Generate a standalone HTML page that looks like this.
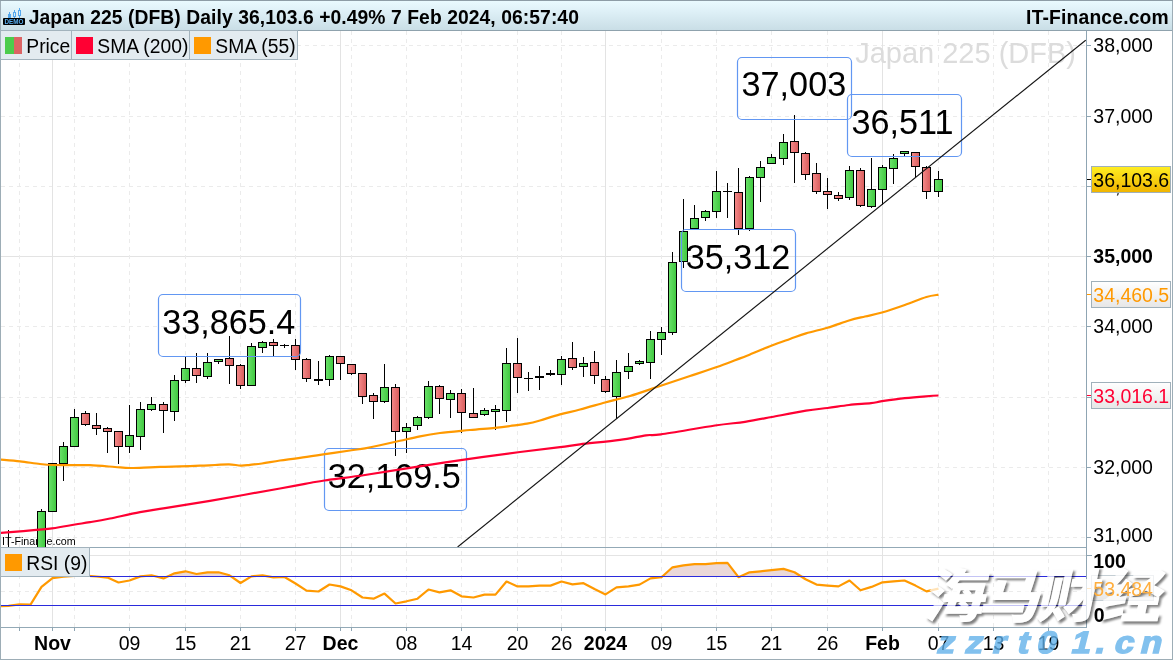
<!DOCTYPE html>
<html lang="en"><head><meta charset="utf-8"><title>Japan 225 (DFB) Daily</title>
<style>
html,body{margin:0;padding:0;background:#fff;}
body{width:1173px;height:660px;overflow:hidden;}
svg{display:block;}
text{font-family:"Liberation Sans","Noto Sans CJK SC",sans-serif;}
.b{font-weight:bold;}
</style></head><body>
<svg width="1173" height="660" viewBox="0 0 1173 660">
<defs>
<linearGradient id="tb" x1="0" y1="0" x2="0" y2="1"><stop offset="0" stop-color="#eafbff"/><stop offset="0.4" stop-color="#ddeff6"/><stop offset="1" stop-color="#c8dde5"/></linearGradient>
<linearGradient id="gg" x1="0" y1="0" x2="1" y2="0"><stop offset="0" stop-color="#6ae26a"/><stop offset="1" stop-color="#3fc83f"/></linearGradient>
<linearGradient id="rg" x1="0" y1="0" x2="1" y2="0"><stop offset="0" stop-color="#f58a8a"/><stop offset="1" stop-color="#d85c5c"/></linearGradient>
<linearGradient id="yg" x1="0" y1="0" x2="0" y2="1"><stop offset="0" stop-color="#ffee22"/><stop offset="1" stop-color="#f0b400"/></linearGradient>
<linearGradient id="lg" x1="0" y1="0" x2="0" y2="1"><stop offset="0" stop-color="#ffffff"/><stop offset="1" stop-color="#e6e6e6"/></linearGradient>
<clipPath id="cm"><rect x="1" y="31" width="1085" height="516"/></clipPath>
<clipPath id="cr"><rect x="1" y="548" width="1085" height="79"/></clipPath>
</defs>
<rect width="1173" height="660" fill="#fff"/>

<g id="grid" shape-rendering="crispEdges">
<line x1="1" x2="1086.5" y1="45.5" y2="45.5" stroke="#ebebeb" stroke-dasharray="4 4"/>
<line x1="1" x2="1086.5" y1="116.5" y2="116.5" stroke="#ebebeb" stroke-dasharray="4 4"/>
<line x1="1" x2="1086.5" y1="186.5" y2="186.5" stroke="#ebebeb" stroke-dasharray="4 4"/>
<line x1="1" x2="1086.5" y1="326.5" y2="326.5" stroke="#ebebeb" stroke-dasharray="4 4"/>
<line x1="1" x2="1086.5" y1="397.5" y2="397.5" stroke="#ebebeb" stroke-dasharray="4 4"/>
<line x1="1" x2="1086.5" y1="467.5" y2="467.5" stroke="#ebebeb" stroke-dasharray="4 4"/>
<line x1="1" x2="1086.5" y1="537.5" y2="537.5" stroke="#ebebeb" stroke-dasharray="4 4"/>
<line x1="1" x2="1086.5" y1="256.5" y2="256.5" stroke="#e3e3e3"/>
<line x1="1" x2="1086.5" y1="555.5" y2="555.5" stroke="#e4e4e4"/>
<line x1="1" x2="1086.5" y1="591.5" y2="591.5" stroke="#ebebeb" stroke-dasharray="4 4"/>
<line x1="52.5" x2="52.5" y1="31" y2="627" stroke="#e3e3e3"/>
<line x1="340.5" x2="340.5" y1="31" y2="627" stroke="#e3e3e3"/>
<line x1="605.5" x2="605.5" y1="31" y2="627" stroke="#e3e3e3"/>
<line x1="882.5" x2="882.5" y1="31" y2="627" stroke="#e3e3e3"/>
<line x1="19.5" x2="19.5" y1="31" y2="627" stroke="#ebebeb" stroke-dasharray="4 4"/>
<line x1="74.5" x2="74.5" y1="31" y2="627" stroke="#ebebeb" stroke-dasharray="4 4"/>
<line x1="129.5" x2="129.5" y1="31" y2="627" stroke="#ebebeb" stroke-dasharray="4 4"/>
<line x1="185.5" x2="185.5" y1="31" y2="627" stroke="#ebebeb" stroke-dasharray="4 4"/>
<line x1="240.5" x2="240.5" y1="31" y2="627" stroke="#ebebeb" stroke-dasharray="4 4"/>
<line x1="295.5" x2="295.5" y1="31" y2="627" stroke="#ebebeb" stroke-dasharray="4 4"/>
<line x1="351.5" x2="351.5" y1="31" y2="627" stroke="#ebebeb" stroke-dasharray="4 4"/>
<line x1="406.5" x2="406.5" y1="31" y2="627" stroke="#ebebeb" stroke-dasharray="4 4"/>
<line x1="461.5" x2="461.5" y1="31" y2="627" stroke="#ebebeb" stroke-dasharray="4 4"/>
<line x1="517.5" x2="517.5" y1="31" y2="627" stroke="#ebebeb" stroke-dasharray="4 4"/>
<line x1="561.5" x2="561.5" y1="31" y2="627" stroke="#ebebeb" stroke-dasharray="4 4"/>
<line x1="661.5" x2="661.5" y1="31" y2="627" stroke="#ebebeb" stroke-dasharray="4 4"/>
<line x1="716.5" x2="716.5" y1="31" y2="627" stroke="#ebebeb" stroke-dasharray="4 4"/>
<line x1="771.5" x2="771.5" y1="31" y2="627" stroke="#ebebeb" stroke-dasharray="4 4"/>
<line x1="827.5" x2="827.5" y1="31" y2="627" stroke="#ebebeb" stroke-dasharray="4 4"/>
<line x1="938.5" x2="938.5" y1="31" y2="627" stroke="#ebebeb" stroke-dasharray="4 4"/>
<line x1="993.5" x2="993.5" y1="31" y2="627" stroke="#ebebeb" stroke-dasharray="4 4"/>
<line x1="1048.5" x2="1048.5" y1="31" y2="627" stroke="#ebebeb" stroke-dasharray="4 4"/>
</g>
<text x="1076" y="62.5" text-anchor="end" font-size="29" fill="#dcdcdc">Japan 225 (DFB)</text>
<text x="2" y="545" font-size="10.7" fill="#000">IT-Finance.com</text>
<g id="candles" clip-path="url(#cm)" shape-rendering="crispEdges" stroke="#000" stroke-width="1">
<line x1="8.5" x2="8.5" y1="530" y2="548"/>
<line x1="41.5" x2="41.5" y1="509" y2="560"/>
<rect x="37.5" y="511.5" width="8" height="48.5" fill="url(#gg)"/>
<line x1="52.5" x2="52.5" y1="463.5" y2="511.5"/>
<rect x="48.5" y="463.5" width="8" height="48.0" fill="url(#gg)"/>
<line x1="63.5" x2="63.5" y1="442" y2="481"/>
<rect x="59.5" y="446.5" width="8" height="17.0" fill="url(#gg)"/>
<line x1="74.5" x2="74.5" y1="409" y2="446.5"/>
<rect x="70.5" y="417.5" width="8" height="29.0" fill="url(#gg)"/>
<line x1="85.5" x2="85.5" y1="411" y2="426"/>
<rect x="81.5" y="413.5" width="8" height="11.0" fill="url(#rg)"/>
<line x1="96.5" x2="96.5" y1="413" y2="434.5"/>
<rect x="92.5" y="425.5" width="8" height="3.0" fill="url(#rg)"/>
<line x1="107.5" x2="107.5" y1="427" y2="452.5"/>
<rect x="103.5" y="428.5" width="8" height="3.0" fill="url(#rg)"/>
<line x1="118.5" x2="118.5" y1="431" y2="463.5"/>
<rect x="114.5" y="431.5" width="8" height="15.0" fill="url(#rg)"/>
<line x1="129.5" x2="129.5" y1="405" y2="452.5"/>
<rect x="125.5" y="435.5" width="8" height="11.0" fill="url(#gg)"/>
<line x1="140.5" x2="140.5" y1="402" y2="449.5"/>
<rect x="136.5" y="409.5" width="8" height="27.0" fill="url(#gg)"/>
<line x1="151.5" x2="151.5" y1="397" y2="411"/>
<rect x="147.5" y="404.5" width="8" height="5.0" fill="url(#gg)"/>
<line x1="163.5" x2="163.5" y1="402" y2="432.5"/>
<rect x="159.5" y="404.5" width="8" height="6.0" fill="url(#rg)"/>
<line x1="174.5" x2="174.5" y1="375" y2="420.5"/>
<rect x="170.5" y="380.5" width="8" height="31.0" fill="url(#gg)"/>
<line x1="185.5" x2="185.5" y1="355.5" y2="383"/>
<rect x="181.5" y="368.5" width="8" height="12.0" fill="url(#gg)"/>
<line x1="196.5" x2="196.5" y1="353" y2="383"/>
<rect x="192.5" y="368.5" width="8" height="7.0" fill="url(#rg)"/>
<line x1="207.5" x2="207.5" y1="353" y2="378.5"/>
<rect x="203.5" y="362.5" width="8" height="14.0" fill="url(#gg)"/>
<line x1="218.5" x2="218.5" y1="359.5" y2="364"/>
<rect x="214.5" y="359.5" width="8" height="2.0" fill="url(#gg)"/>
<line x1="229.5" x2="229.5" y1="336" y2="384"/>
<rect x="225.5" y="358.5" width="8" height="7.0" fill="url(#rg)"/>
<line x1="240.5" x2="240.5" y1="364" y2="389"/>
<rect x="236.5" y="365.5" width="8" height="20.0" fill="url(#rg)"/>
<line x1="251.5" x2="251.5" y1="343" y2="385.5"/>
<rect x="247.5" y="346.5" width="8" height="39.0" fill="url(#gg)"/>
<line x1="262.5" x2="262.5" y1="341" y2="352.5"/>
<rect x="258.5" y="342.5" width="8" height="5.0" fill="url(#gg)"/>
<line x1="273.5" x2="273.5" y1="339" y2="355.5"/>
<rect x="269.5" y="342.5" width="8" height="3.0" fill="url(#rg)"/>
<line x1="284.5" x2="284.5" y1="343.5" y2="347.5"/>
<line x1="280.0" x2="289.0" y1="345.5" y2="345.5"/>
<line x1="295.5" x2="295.5" y1="339" y2="369.5"/>
<rect x="291.5" y="345.5" width="8" height="14.0" fill="url(#rg)"/>
<line x1="306.5" x2="306.5" y1="358" y2="381.5"/>
<rect x="302.5" y="359.5" width="8" height="19.0" fill="url(#rg)"/>
<line x1="318.5" x2="318.5" y1="360.5" y2="384.5"/>
<rect x="314.0" y="379" width="9" height="2" fill="#000" stroke="none"/>
<line x1="329.5" x2="329.5" y1="355" y2="385.5"/>
<rect x="325.5" y="356.5" width="8" height="23.0" fill="url(#gg)"/>
<line x1="340.5" x2="340.5" y1="356.5" y2="379.5"/>
<rect x="336.5" y="356.5" width="8" height="7.0" fill="url(#rg)"/>
<line x1="351.5" x2="351.5" y1="364.5" y2="374.5"/>
<rect x="347.5" y="364.5" width="8" height="9.0" fill="url(#rg)"/>
<line x1="362.5" x2="362.5" y1="373.5" y2="403.5"/>
<rect x="358.5" y="373.5" width="8" height="23.0" fill="url(#rg)"/>
<line x1="373.5" x2="373.5" y1="392.5" y2="419"/>
<rect x="369.5" y="395.5" width="8" height="6.0" fill="url(#rg)"/>
<line x1="384.5" x2="384.5" y1="364" y2="403"/>
<rect x="380.5" y="387.5" width="8" height="14.0" fill="url(#gg)"/>
<line x1="395.5" x2="395.5" y1="384" y2="456"/>
<rect x="391.5" y="387.5" width="8" height="44.0" fill="url(#rg)"/>
<line x1="406.5" x2="406.5" y1="423" y2="452.5"/>
<rect x="402.5" y="427.5" width="8" height="4.0" fill="url(#gg)"/>
<line x1="417.5" x2="417.5" y1="416" y2="429.5"/>
<rect x="413.5" y="417.5" width="8" height="8.0" fill="url(#gg)"/>
<line x1="428.5" x2="428.5" y1="381" y2="419"/>
<rect x="424.5" y="386.5" width="8" height="31.0" fill="url(#gg)"/>
<line x1="439.5" x2="439.5" y1="385" y2="414"/>
<rect x="435.5" y="386.5" width="8" height="12.0" fill="url(#rg)"/>
<line x1="450.5" x2="450.5" y1="389.5" y2="417.5"/>
<rect x="446.5" y="393.5" width="8" height="6.0" fill="url(#gg)"/>
<line x1="461.5" x2="461.5" y1="388.5" y2="432.5"/>
<rect x="457.5" y="393.5" width="8" height="19.0" fill="url(#rg)"/>
<line x1="473.5" x2="473.5" y1="388" y2="417.5"/>
<rect x="469.5" y="413.5" width="8" height="4.0" fill="url(#rg)"/>
<line x1="484.5" x2="484.5" y1="407.5" y2="415.5"/>
<rect x="480.5" y="410.5" width="8" height="4.0" fill="url(#gg)"/>
<line x1="495.5" x2="495.5" y1="405" y2="429.5"/>
<rect x="491.5" y="409.5" width="8" height="2.0" fill="url(#gg)"/>
<line x1="506.5" x2="506.5" y1="348" y2="421.5"/>
<rect x="502.5" y="363.5" width="8" height="47.0" fill="url(#gg)"/>
<line x1="517.5" x2="517.5" y1="338" y2="392.5"/>
<rect x="513.5" y="363.5" width="8" height="14.0" fill="url(#rg)"/>
<line x1="528.5" x2="528.5" y1="372" y2="390.5"/>
<line x1="524.0" x2="533.0" y1="378.5" y2="378.5"/>
<line x1="539.5" x2="539.5" y1="366" y2="389.5"/>
<rect x="535.0" y="376" width="9" height="2" fill="#000" stroke="none"/>
<line x1="550.5" x2="550.5" y1="370" y2="375.5"/>
<rect x="546.0" y="373" width="9" height="2" fill="#000" stroke="none"/>
<line x1="561.5" x2="561.5" y1="356" y2="384.5"/>
<rect x="557.5" y="359.5" width="8" height="15.0" fill="url(#gg)"/>
<line x1="572.5" x2="572.5" y1="342" y2="369.5"/>
<rect x="568.5" y="358.5" width="8" height="9.0" fill="url(#rg)"/>
<line x1="583.5" x2="583.5" y1="357" y2="376.5"/>
<rect x="579.5" y="363.5" width="8" height="3.0" fill="url(#gg)"/>
<line x1="594.5" x2="594.5" y1="351" y2="383.5"/>
<rect x="590.5" y="362.5" width="8" height="13.0" fill="url(#rg)"/>
<line x1="605.5" x2="605.5" y1="376" y2="392.5"/>
<rect x="601.5" y="379.5" width="8" height="12.0" fill="url(#rg)"/>
<line x1="616.5" x2="616.5" y1="360" y2="419"/>
<rect x="612.5" y="372.5" width="8" height="24.0" fill="url(#gg)"/>
<line x1="628.5" x2="628.5" y1="353" y2="378.5"/>
<rect x="624.5" y="366.5" width="8" height="5.0" fill="url(#gg)"/>
<line x1="639.5" x2="639.5" y1="360" y2="364.5"/>
<rect x="635.5" y="361.5" width="8" height="2.0" fill="url(#gg)"/>
<line x1="650.5" x2="650.5" y1="330.5" y2="378.5"/>
<rect x="646.5" y="339.5" width="8" height="23.0" fill="url(#gg)"/>
<line x1="661.5" x2="661.5" y1="327" y2="354.5"/>
<rect x="657.5" y="332.5" width="8" height="7.0" fill="url(#gg)"/>
<line x1="672.5" x2="672.5" y1="252" y2="334.5"/>
<rect x="668.5" y="262.5" width="8" height="70.0" fill="url(#gg)"/>
<line x1="683.5" x2="683.5" y1="199" y2="268"/>
<rect x="679.5" y="231.5" width="8" height="30.0" fill="url(#gg)"/>
<line x1="694.5" x2="694.5" y1="205" y2="230"/>
<rect x="690.5" y="218.5" width="8" height="10.0" fill="url(#gg)"/>
<line x1="705.5" x2="705.5" y1="209.5" y2="220.5"/>
<rect x="701.5" y="211.5" width="8" height="6.0" fill="url(#gg)"/>
<line x1="716.5" x2="716.5" y1="171" y2="217.5"/>
<rect x="712.5" y="191.5" width="8" height="20.0" fill="url(#gg)"/>
<line x1="727.5" x2="727.5" y1="183" y2="217.5"/>
<line x1="723.0" x2="732.0" y1="191.5" y2="191.5"/>
<line x1="738.5" x2="738.5" y1="168" y2="234.5"/>
<rect x="734.5" y="192.5" width="8" height="36.0" fill="url(#rg)"/>
<line x1="749.5" x2="749.5" y1="176" y2="230.5"/>
<rect x="745.5" y="177.5" width="8" height="51.0" fill="url(#gg)"/>
<line x1="760.5" x2="760.5" y1="161" y2="201.5"/>
<rect x="756.5" y="167.5" width="8" height="10.0" fill="url(#gg)"/>
<line x1="771.5" x2="771.5" y1="154" y2="163.5"/>
<rect x="767.5" y="157.5" width="8" height="6.0" fill="url(#gg)"/>
<line x1="783.5" x2="783.5" y1="134" y2="164.5"/>
<rect x="779.5" y="142.5" width="8" height="16.0" fill="url(#gg)"/>
<line x1="794.5" x2="794.5" y1="115" y2="182.5"/>
<rect x="790.5" y="141.5" width="8" height="11.0" fill="url(#rg)"/>
<line x1="805.5" x2="805.5" y1="152" y2="179.5"/>
<rect x="801.5" y="153.5" width="8" height="21.0" fill="url(#rg)"/>
<line x1="816.5" x2="816.5" y1="163" y2="193.5"/>
<rect x="812.5" y="173.5" width="8" height="18.0" fill="url(#rg)"/>
<line x1="827.5" x2="827.5" y1="178" y2="208.5"/>
<rect x="823.5" y="191.5" width="8" height="3.0" fill="url(#rg)"/>
<line x1="838.5" x2="838.5" y1="192" y2="200.5"/>
<rect x="834.5" y="195.5" width="8" height="3.0" fill="url(#rg)"/>
<line x1="849.5" x2="849.5" y1="166" y2="199.5"/>
<rect x="845.5" y="170.5" width="8" height="27.0" fill="url(#gg)"/>
<line x1="860.5" x2="860.5" y1="168" y2="206.5"/>
<rect x="856.5" y="170.5" width="8" height="35.0" fill="url(#rg)"/>
<line x1="871.5" x2="871.5" y1="158" y2="207.5"/>
<rect x="867.5" y="189.5" width="8" height="17.0" fill="url(#gg)"/>
<line x1="882.5" x2="882.5" y1="164.5" y2="204.5"/>
<rect x="878.5" y="167.5" width="8" height="22.0" fill="url(#gg)"/>
<line x1="893.5" x2="893.5" y1="154" y2="183.5"/>
<rect x="889.5" y="158.5" width="8" height="10.0" fill="url(#gg)"/>
<line x1="904.5" x2="904.5" y1="150.5" y2="155.5"/>
<rect x="900.5" y="151.5" width="8" height="2.0" fill="url(#gg)"/>
<line x1="915.5" x2="915.5" y1="152.5" y2="177"/>
<rect x="911.5" y="152.5" width="8" height="14.0" fill="url(#rg)"/>
<line x1="926.5" x2="926.5" y1="165.5" y2="198.5"/>
<rect x="922.5" y="167.5" width="8" height="24.0" fill="url(#rg)"/>
<line x1="938.5" x2="938.5" y1="171" y2="196.5"/>
<rect x="934.5" y="179.5" width="8" height="12.0" fill="url(#gg)"/>
</g>
<g id="labels">
<rect x="158.5" y="294.5" width="142" height="62" rx="4.5" ry="4.5" fill="none" stroke="#6297f2" stroke-width="1.2"/>
<text x="162.2" y="333.8" font-size="34.2" fill="#000">33,865.4</text>
<rect x="324.5" y="448.5" width="142" height="62" rx="4.5" ry="4.5" fill="none" stroke="#6297f2" stroke-width="1.2"/>
<text x="327.7" y="487.7" font-size="34.2" fill="#000">32,169.5</text>
<rect x="681.5" y="229.5" width="114" height="62" rx="4.5" ry="4.5" fill="none" stroke="#6297f2" stroke-width="1.2"/>
<text x="685.8" y="269" font-size="34.2" fill="#000">35,312</text>
<rect x="737.5" y="57.5" width="114" height="62" rx="4.5" ry="4.5" fill="none" stroke="#6297f2" stroke-width="1.2"/>
<text x="741.6" y="96.2" font-size="34.2" fill="#000">37,003</text>
<rect x="847.5" y="94.5" width="114" height="62" rx="4.5" ry="4.5" fill="none" stroke="#6297f2" stroke-width="1.2"/>
<text x="851.5" y="133.5" font-size="34.2" fill="#000">36,511</text>
</g>
<g clip-path="url(#cm)" fill="none" stroke-linejoin="round" stroke-linecap="butt">
<path d="M0.0,533.0 C3.3,532.7 11.3,532.1 20.0,531.3 C28.7,530.5 42.8,529.4 52.0,528.3 C61.2,527.2 68.7,525.5 75.0,524.5 C81.3,523.5 84.2,523.2 90.0,522.2 C95.8,521.2 101.7,520.2 110.0,518.5 C118.3,516.8 130.8,513.9 140.0,512.2 C149.2,510.5 153.3,510.1 165.0,508.2 C176.7,506.3 190.8,504.1 210.0,500.8 C229.2,497.5 262.5,491.6 280.0,488.5 C297.5,485.4 306.7,483.5 315.0,482.0 C323.3,480.5 321.7,480.9 330.0,479.7 C338.3,478.5 351.7,477.0 365.0,475.0 C378.3,473.0 393.2,470.4 410.0,467.8 C426.8,465.2 447.7,462.0 466.0,459.4 C484.3,456.8 504.3,454.0 520.0,452.0 C535.7,450.0 550.0,448.5 560.0,447.2 C570.0,445.9 570.0,445.5 580.0,444.3 C590.0,443.1 609.0,441.3 620.0,439.8 C631.0,438.3 639.2,436.2 646.0,435.3 C652.8,434.4 649.5,435.9 661.0,434.3 C672.5,432.7 701.0,427.6 715.0,425.5 C729.0,423.4 735.5,423.2 745.0,421.8 C754.5,420.4 761.6,418.9 771.8,417.0 C782.0,415.1 796.7,412.2 806.0,410.7 C815.3,409.2 820.3,408.9 827.5,408.0 C834.7,407.1 841.8,405.8 849.0,405.0 C856.2,404.2 865.5,403.8 871.0,403.2 C876.5,402.6 876.4,402.0 882.0,401.2 C887.6,400.4 897.5,399.0 904.8,398.2 C912.1,397.4 920.4,396.8 926.0,396.4 C931.6,395.9 936.4,395.6 938.5,395.5" stroke="#ff0033" stroke-width="2.2"/>
<path d="M0.0,459.5 C3.3,459.8 13.3,460.6 20.0,461.3 C26.7,462.1 34.7,463.4 40.0,464.0 C45.3,464.6 46.2,464.8 52.0,465.0 C57.8,465.2 68.7,465.2 75.0,465.2 C81.3,465.2 83.3,464.9 90.0,465.2 C96.7,465.5 108.3,466.5 115.0,467.0 C121.7,467.5 124.2,467.9 130.0,468.0 C135.8,468.1 144.2,467.5 150.0,467.3 C155.8,467.1 160.0,467.0 165.0,466.8 C170.0,466.6 174.2,466.6 180.0,466.4 C185.8,466.2 194.2,465.9 200.0,465.7 C205.8,465.5 210.2,465.2 215.0,465.0 C219.8,464.8 224.7,464.2 229.0,464.3 C233.3,464.4 237.5,465.5 241.0,465.6 C244.5,465.7 246.5,465.2 250.0,464.8 C253.5,464.4 257.0,464.2 262.0,463.5 C267.0,462.8 273.7,461.4 280.0,460.5 C286.3,459.6 292.5,458.9 300.0,457.8 C307.5,456.8 316.7,455.4 325.0,454.2 C333.3,453.0 343.3,451.5 350.0,450.5 C356.7,449.5 360.0,449.3 365.0,448.4 C370.0,447.5 374.2,446.6 380.0,445.3 C385.8,444.0 393.3,442.3 400.0,440.8 C406.7,439.3 413.3,437.6 420.0,436.3 C426.7,435.0 431.7,434.1 440.0,433.0 C448.3,431.9 460.8,430.9 470.0,430.0 C479.2,429.1 488.3,428.5 495.0,427.8 C501.7,427.1 504.7,426.7 510.0,426.0 C515.3,425.3 522.0,424.6 527.0,423.7 C532.0,422.8 534.5,422.1 540.0,420.5 C545.5,418.9 553.3,416.2 560.0,414.4 C566.7,412.6 572.5,411.5 580.0,409.5 C587.5,407.5 596.7,404.8 605.0,402.5 C613.3,400.2 620.8,398.8 630.0,396.0 C639.2,393.2 650.0,389.3 660.0,386.0 C670.0,382.7 680.0,379.3 690.0,376.0 C700.0,372.7 711.7,368.9 720.0,366.0 C728.3,363.1 735.0,360.3 740.0,358.4 C745.0,356.5 744.7,356.6 750.0,354.5 C755.3,352.4 765.1,348.1 771.8,345.5 C778.5,342.9 784.3,341.0 790.0,339.0 C795.7,337.0 799.8,335.3 806.0,333.4 C812.2,331.5 820.3,329.8 827.5,327.7 C834.7,325.6 842.8,322.4 849.0,320.5 C855.2,318.6 859.5,317.8 865.0,316.5 C870.5,315.2 875.4,314.4 882.0,312.5 C888.6,310.6 897.4,307.6 904.8,305.0 C912.2,302.4 920.8,298.7 926.4,297.0 C932.0,295.3 936.5,295.1 938.5,294.7" stroke="#ff9900" stroke-width="2.2"/>
<line x1="457.6" y1="547" x2="1085.7" y2="40.2" stroke="#151515" stroke-width="1.15"/>
</g>
<g id="rsi">
<path d="M-3.5,576.5 L8.5,576.5 L19.5,576.5 L30.5,576.5 L41.5,576.5 L52.5,576.5 L63.5,576.5 L74.5,575.8 L85.5,575.6 L96.5,576.5 L107.5,576.5 L118.5,576.5 L129.5,576.5 L140.5,576.4 L151.5,575.3 L163.5,576.5 L174.5,573.3 L185.5,571.3 L196.5,574.0 L207.5,572.3 L218.5,572.3 L229.5,575.3 L240.5,576.5 L251.5,576.4 L262.5,575.3 L273.5,576.5 L284.5,576.5 L295.5,576.5 L306.5,576.5 L318.5,576.5 L329.5,576.5 L340.5,576.5 L351.5,576.5 L362.5,576.5 L373.5,576.5 L384.5,576.5 L395.5,576.5 L406.5,576.5 L417.5,576.5 L428.5,576.5 L439.5,576.5 L450.5,576.5 L461.5,576.5 L473.5,576.5 L484.5,576.5 L495.5,576.5 L506.5,576.5 L517.5,576.5 L528.5,576.5 L539.5,576.5 L550.5,576.5 L561.5,576.5 L572.5,576.5 L583.5,576.5 L594.5,576.5 L605.5,576.5 L616.5,576.5 L628.5,576.5 L639.5,576.5 L650.5,576.5 L661.5,576.5 L672.5,567.3 L683.5,565.3 L694.5,564.1 L705.5,564.1 L716.5,563.1 L727.5,562.9 L738.5,576.5 L749.5,572.3 L760.5,571.3 L771.5,570.2 L783.5,568.9 L794.5,572.3 L805.5,576.5 L816.5,576.5 L827.5,576.5 L838.5,576.5 L849.5,576.5 L860.5,576.5 L871.5,576.5 L882.5,576.5 L893.5,576.5 L904.5,576.5 L915.5,576.5 L926.5,576.5 L938.5,576.5 L938.5,576.5 L-3.5,576.5 Z" fill="#ead8d8" clip-path="url(#cr)"/>
<path d="M-3.5,606.4 L8.5,605.9 L19.5,604.4 L30.5,604.6 L41.5,586.8 L52.5,578.1 L63.5,576.7 L74.5,575.8 L85.5,575.6 L96.5,576.5 L107.5,577.6 L118.5,582.5 L129.5,580.5 L140.5,576.4 L151.5,575.3 L163.5,578.4 L174.5,573.3 L185.5,571.3 L196.5,574.0 L207.5,572.3 L218.5,572.3 L229.5,575.3 L240.5,583.0 L251.5,576.4 L262.5,575.3 L273.5,577.4 L284.5,577.0 L295.5,583.5 L306.5,590.7 L318.5,591.5 L329.5,584.5 L340.5,586.4 L351.5,590.3 L362.5,597.5 L373.5,598.7 L384.5,593.6 L395.5,603.5 L406.5,601.3 L417.5,598.7 L428.5,589.5 L439.5,592.4 L450.5,590.3 L461.5,596.3 L473.5,597.5 L484.5,594.6 L495.5,594.6 L506.5,581.5 L517.5,586.4 L528.5,586.4 L539.5,585.6 L550.5,585.6 L561.5,581.5 L572.5,584.4 L583.5,583.2 L594.5,589.0 L605.5,594.4 L616.5,587.3 L628.5,586.3 L639.5,584.6 L650.5,578.4 L661.5,577.2 L672.5,567.3 L683.5,565.3 L694.5,564.1 L705.5,564.1 L716.5,563.1 L727.5,562.9 L738.5,577.2 L749.5,572.3 L760.5,571.3 L771.5,570.2 L783.5,568.9 L794.5,572.3 L805.5,579.3 L816.5,584.6 L827.5,585.6 L838.5,586.4 L849.5,580.5 L860.5,590.3 L871.5,586.9 L882.5,582.3 L893.5,581.3 L904.5,580.5 L915.5,585.6 L926.5,591.4 L938.5,588.6" fill="none" stroke="#ff9900" stroke-width="2.2" stroke-linejoin="round" clip-path="url(#cr)"/>
<line x1="1" x2="1086.5" y1="576.5" y2="576.5" stroke="#2b2bdc" stroke-width="1" shape-rendering="crispEdges"/>
<line x1="1" x2="1086.5" y1="605.5" y2="605.5" stroke="#2b2bdc" stroke-width="1" shape-rendering="crispEdges"/>
</g>
<g id="frames" shape-rendering="crispEdges">
<rect x="0" y="0" width="1173" height="31" fill="url(#tb)"/>
<line x1="0" x2="1173" y1="30.5" y2="30.5" stroke="#8fa2ad"/>
<line x1="0" x2="1086.5" y1="547.5" y2="547.5" stroke="#93a9b6"/>
<line x1="0" x2="1092.5" y1="627.5" y2="627.5" stroke="#93a9b6"/>
<line x1="1086.5" x2="1086.5" y1="31" y2="628" stroke="#8fa5b3"/>
<rect x="0.5" y="0.5" width="1172" height="659" fill="none" stroke="#9dadb6"/>
<line x1="0" x2="1173" y1="0.5" y2="0.5" stroke="#8d9da6"/>
</g>
<text x="28.7" y="23.8" font-size="19.3" class="b" fill="#000" textLength="550.2" lengthAdjust="spacing">Japan 225 (DFB) Daily 36,103.6 +0.49% 7 Feb 2024, 06:57:40</text>
<text x="1026.1" y="23.7" font-size="19.3" class="b" fill="#000" textLength="142.6" lengthAdjust="spacing">IT-Finance.com</text>
<g id="demo">
<g stroke="#55a8ee" stroke-width="1" fill="none" shape-rendering="crispEdges">
<line x1="9.5" x2="9.5" y1="12" y2="18"/><rect x="8.5" y="14.5" width="2" height="3" fill="#55a8ee"/>
<line x1="14.5" x2="14.5" y1="10" y2="12"/><line x1="14.5" x2="14.5" y1="17" y2="18"/><rect x="13.5" y="12.5" width="2" height="4"/>
<line x1="19.5" x2="19.5" y1="8" y2="10"/><line x1="19.5" x2="19.5" y1="16" y2="18"/><rect x="18.5" y="10.5" width="2" height="5"/>
</g>
<rect x="3" y="18" width="22" height="7" rx="1" fill="#000"/>
<text x="14" y="23.9" font-size="6.4" class="b" text-anchor="middle" fill="#58aef0" textLength="19" lengthAdjust="spacingAndGlyphs">DEMO</text>
</g>
<g id="legend">
<rect x="0.5" y="30.5" width="71" height="29" fill="#e3ebf0" stroke="#a3b3bd" shape-rendering="crispEdges"/>
<rect x="5" y="37" width="9" height="17" fill="#4ccc4c"/><rect x="14" y="37" width="8" height="17" fill="#dc6464"/>
<text x="26.3" y="52.6" font-size="19.3" fill="#000">Price</text>
<rect x="71.5" y="30.5" width="118" height="29" fill="#e3ebf0" stroke="#a3b3bd" shape-rendering="crispEdges"/>
<rect x="76" y="37" width="17" height="17" fill="#ff0033"/>
<text x="97.3" y="52.6" font-size="19.3" fill="#000">SMA (200)</text>
<rect x="189.5" y="30.5" width="108" height="29" fill="#e3ebf0" stroke="#a3b3bd" shape-rendering="crispEdges"/>
<rect x="194" y="37" width="17" height="17" fill="#ff9900"/>
<text x="215.3" y="52.6" font-size="19.3" fill="#000">SMA (55)</text>
<rect x="0.5" y="547.5" width="89" height="29" fill="#e3ebf0" stroke="#a3b3bd" shape-rendering="crispEdges"/>
<rect x="5" y="554" width="17" height="17" fill="#ff9900"/>
<text x="26.3" y="569.6" font-size="19.3" fill="#000">RSI (9)</text>
</g>
<g id="axis">
<rect x="1087.0" y="31" width="85.0" height="627" fill="#fff"/>
<line x1="1086.5" x2="1091.0" y1="45.5" y2="45.5" stroke="#8fa5b3" shape-rendering="crispEdges"/>
<text x="1093.3" y="51.9" font-size="19.5" fill="#000">38,000</text>
<line x1="1086.5" x2="1091.0" y1="116.5" y2="116.5" stroke="#8fa5b3" shape-rendering="crispEdges"/>
<text x="1093.3" y="122.9" font-size="19.5" fill="#000">37,000</text>
<line x1="1086.5" x2="1091.0" y1="186.5" y2="186.5" stroke="#8fa5b3" shape-rendering="crispEdges"/>
<text x="1093.3" y="192.9" font-size="19.5" fill="#000">36,000</text>
<line x1="1086.5" x2="1091.0" y1="256.5" y2="256.5" stroke="#8fa5b3" shape-rendering="crispEdges"/>
<text x="1093.3" y="262.9" font-size="19.5" class="b" fill="#000">35,000</text>
<line x1="1086.5" x2="1091.0" y1="326.5" y2="326.5" stroke="#8fa5b3" shape-rendering="crispEdges"/>
<text x="1093.3" y="332.9" font-size="19.5" fill="#000">34,000</text>
<line x1="1086.5" x2="1091.0" y1="397.5" y2="397.5" stroke="#8fa5b3" shape-rendering="crispEdges"/>
<text x="1093.3" y="403.9" font-size="19.5" fill="#000">33,000</text>
<line x1="1086.5" x2="1091.0" y1="467.5" y2="467.5" stroke="#8fa5b3" shape-rendering="crispEdges"/>
<text x="1093.3" y="473.9" font-size="19.5" fill="#000">32,000</text>
<line x1="1086.5" x2="1091.0" y1="537.5" y2="537.5" stroke="#8fa5b3" shape-rendering="crispEdges"/>
<text x="1093.3" y="541.6999999999999" font-size="19.5" fill="#000">31,000</text>
<line x1="1086.5" x2="1091.5" y1="555.5" y2="555.5" stroke="#8fa5b3" shape-rendering="crispEdges"/>
<line x1="1086.5" x2="1091" y1="179.5" y2="179.5" stroke="#000" shape-rendering="crispEdges"/>
<rect x="1091.5" y="166.5" width="79" height="26" fill="url(#yg)" stroke="#a0b0ba" shape-rendering="crispEdges"/>
<text x="1093.3" y="186.7" font-size="19.5" fill="#000">36,103.6</text>
<line x1="1086.5" x2="1091" y1="294.5" y2="294.5" stroke="#ff9900" shape-rendering="crispEdges"/>
<rect x="1091.5" y="281.5" width="79" height="26" fill="url(#lg)" stroke="#a0b0ba" shape-rendering="crispEdges"/>
<text x="1093.3" y="301.7" font-size="19.5" fill="#ff9900">34,460.5</text>
<line x1="1086.5" x2="1091" y1="395.5" y2="395.5" stroke="#ff0033" shape-rendering="crispEdges"/>
<rect x="1091.5" y="382.5" width="79" height="26" fill="url(#lg)" stroke="#a0b0ba" shape-rendering="crispEdges"/>
<text x="1093.3" y="402.7" font-size="19.5" fill="#ff0033">33,016.1</text>
<line x1="1086.5" x2="1091" y1="588.5" y2="588.5" stroke="#ffb347" shape-rendering="crispEdges"/>
<rect x="1091.5" y="575.5" width="62" height="25" fill="url(#lg)" stroke="#c4ced4" shape-rendering="crispEdges"/>
<line x1="1086.5" x2="1086.5" y1="31" y2="628" stroke="#8fa5b3" shape-rendering="crispEdges"/>
</g>
<g id="dates">
<line x1="19.5" x2="19.5" y1="627" y2="631" stroke="#8fa5b3" shape-rendering="crispEdges"/>
<line x1="52.5" x2="52.5" y1="627" y2="631" stroke="#8fa5b3" shape-rendering="crispEdges"/>
<line x1="74.5" x2="74.5" y1="627" y2="631" stroke="#8fa5b3" shape-rendering="crispEdges"/>
<line x1="129.5" x2="129.5" y1="627" y2="631" stroke="#8fa5b3" shape-rendering="crispEdges"/>
<line x1="185.5" x2="185.5" y1="627" y2="631" stroke="#8fa5b3" shape-rendering="crispEdges"/>
<line x1="240.5" x2="240.5" y1="627" y2="631" stroke="#8fa5b3" shape-rendering="crispEdges"/>
<line x1="295.5" x2="295.5" y1="627" y2="631" stroke="#8fa5b3" shape-rendering="crispEdges"/>
<line x1="340.5" x2="340.5" y1="627" y2="631" stroke="#8fa5b3" shape-rendering="crispEdges"/>
<line x1="351.5" x2="351.5" y1="627" y2="631" stroke="#8fa5b3" shape-rendering="crispEdges"/>
<line x1="406.5" x2="406.5" y1="627" y2="631" stroke="#8fa5b3" shape-rendering="crispEdges"/>
<line x1="461.5" x2="461.5" y1="627" y2="631" stroke="#8fa5b3" shape-rendering="crispEdges"/>
<line x1="517.5" x2="517.5" y1="627" y2="631" stroke="#8fa5b3" shape-rendering="crispEdges"/>
<line x1="561.5" x2="561.5" y1="627" y2="631" stroke="#8fa5b3" shape-rendering="crispEdges"/>
<line x1="605.5" x2="605.5" y1="627" y2="631" stroke="#8fa5b3" shape-rendering="crispEdges"/>
<line x1="661.5" x2="661.5" y1="627" y2="631" stroke="#8fa5b3" shape-rendering="crispEdges"/>
<line x1="716.5" x2="716.5" y1="627" y2="631" stroke="#8fa5b3" shape-rendering="crispEdges"/>
<line x1="771.5" x2="771.5" y1="627" y2="631" stroke="#8fa5b3" shape-rendering="crispEdges"/>
<line x1="827.5" x2="827.5" y1="627" y2="631" stroke="#8fa5b3" shape-rendering="crispEdges"/>
<line x1="882.5" x2="882.5" y1="627" y2="631" stroke="#8fa5b3" shape-rendering="crispEdges"/>
<line x1="938.5" x2="938.5" y1="627" y2="631" stroke="#8fa5b3" shape-rendering="crispEdges"/>
<line x1="993.5" x2="993.5" y1="627" y2="631" stroke="#8fa5b3" shape-rendering="crispEdges"/>
<line x1="1048.5" x2="1048.5" y1="627" y2="631" stroke="#8fa5b3" shape-rendering="crispEdges"/>
<text x="52.5" y="650.3" font-size="19.5" text-anchor="middle" class="b" fill="#000">Nov</text>
<text x="129.5" y="650.3" font-size="19.5" text-anchor="middle" fill="#000">09</text>
<text x="185.5" y="650.3" font-size="19.5" text-anchor="middle" fill="#000">15</text>
<text x="240.5" y="650.3" font-size="19.5" text-anchor="middle" fill="#000">21</text>
<text x="295.5" y="650.3" font-size="19.5" text-anchor="middle" fill="#000">27</text>
<text x="340.5" y="650.3" font-size="19.5" text-anchor="middle" class="b" fill="#000">Dec</text>
<text x="406.5" y="650.3" font-size="19.5" text-anchor="middle" fill="#000">08</text>
<text x="461.5" y="650.3" font-size="19.5" text-anchor="middle" fill="#000">14</text>
<text x="517.5" y="650.3" font-size="19.5" text-anchor="middle" fill="#000">20</text>
<text x="561.5" y="650.3" font-size="19.5" text-anchor="middle" fill="#000">26</text>
<text x="605.5" y="650.3" font-size="19.5" text-anchor="middle" class="b" fill="#000">2024</text>
<text x="661.5" y="650.3" font-size="19.5" text-anchor="middle" fill="#000">09</text>
<text x="716.5" y="650.3" font-size="19.5" text-anchor="middle" fill="#000">15</text>
<text x="771.5" y="650.3" font-size="19.5" text-anchor="middle" fill="#000">21</text>
<text x="827.5" y="650.3" font-size="19.5" text-anchor="middle" fill="#000">26</text>
<text x="882.5" y="650.3" font-size="19.5" text-anchor="middle" class="b" fill="#000">Feb</text>
<text x="938.5" y="650.3" font-size="19.5" text-anchor="middle" fill="#000">07</text>
<text x="993.5" y="650.3" font-size="19.5" text-anchor="middle" fill="#000">13</text>
<text x="1048.5" y="650.3" font-size="19.5" text-anchor="middle" fill="#000">19</text>
</g>
<g id="wm">
<defs>
<filter id="bl" x="-5%" y="-10%" width="110%" height="120%"><feGaussianBlur stdDeviation="1"/></filter>
<mask id="wmm" maskUnits="userSpaceOnUse" x="900" y="540" width="273" height="120"><rect x="900" y="540" width="273" height="120" fill="#fff"/>
<text transform="translate(922,617) skewX(-12) scale(1.06,1)" x="0 52.5 106.5 166.5" y="0" font-weight="900" font-size="58" fill="#000">海马财经</text></mask>
</defs>
<g mask="url(#wmm)"><text transform="translate(924.2,619.2) skewX(-12) scale(1.06,1)" x="0 52.5 106.5 166.5" y="0" font-weight="900" font-size="58" fill="#000" fill-opacity="0.5" filter="url(#bl)">海马财经</text></g>
<text transform="translate(922,617) skewX(-12) scale(1.06,1)" x="0 52.5 106.5 166.5" y="0" font-weight="900" font-size="58" fill="#fff" fill-opacity="0.72">海马财经</text>
<g opacity="0.78"><text transform="translate(0,653) skewX(-14) scale(1.12,1)" x="835.7 860.7 884.8 907.1 924.6 955.4 976.8 993.7 1017.0" y="0" font-size="31" font-weight="bold" fill="#5fb0ea" stroke="#5fb0ea" stroke-width="1.5">zzrt01.cn</text></g>
</g>
<g id="rsiaxis">
<text x="1093.3" y="568.2" font-size="19.5" class="b" fill="#000">100</text>
<text x="1093.8" y="621.6" font-size="19.5" class="b" fill="#000">0</text>
<text x="1093.3" y="595.5" font-size="19.5" fill="#ffae3d">53.484</text>
</g>
</svg></body></html>
